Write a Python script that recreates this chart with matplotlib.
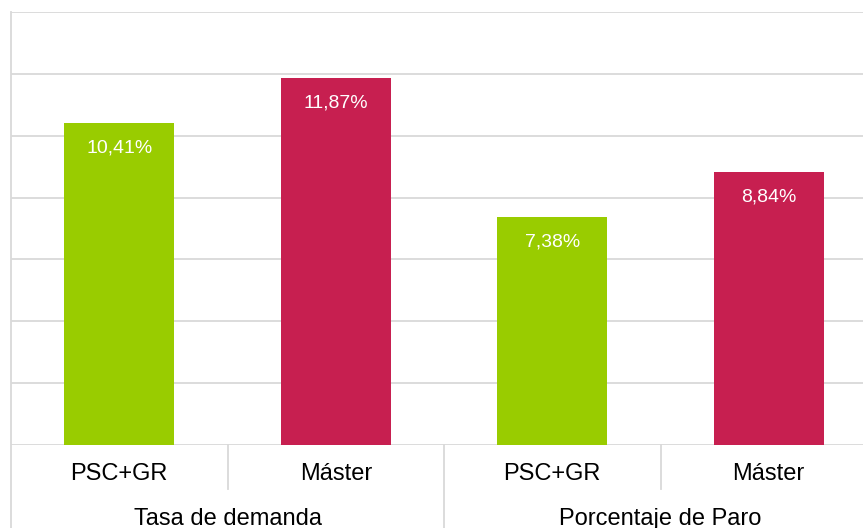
import matplotlib.pyplot as plt

# data
categories = ["PSC+GR", "Máster", "PSC+GR", "Máster"]
groups = ["Tasa de demanda", "Porcentaje de Paro"]
values = [10.41, 11.87, 7.38, 8.84]
labels = ["10,41%", "11,87%", "7,38%", "8,84%"]
colors = ["#99CC00", "#C71F50", "#99CC00", "#C71F50"]

plt.rcParams['font.family'] = ['Liberation Sans', 'DejaVu Sans']

fig = plt.figure(figsize=(8.63, 5.28), dpi=100)
ax = fig.add_axes([11 / 863, 83 / 528, 866 / 863, 433 / 528])

grid_c = "#D9D9D9"
x = list(range(len(values)))
bars = ax.bar(x, values, width=0.51, color=colors, zorder=3)

for b, lab in zip(bars, labels):
    ax.annotate(lab, (b.get_x() + b.get_width() / 2, b.get_height()),
                xytext=(0, -18), textcoords="offset points",
                ha="center", va="center", color="white", fontsize=14, zorder=4)

ax.set_xlim(-0.5, 3.5)
ax.set_ylim(0, 14)
ax.set_yticks(range(0, 15, 2))
ax.yaxis.grid(True, color=grid_c, linewidth=1.3, zorder=0)
ax.set_xticks([])
ax.tick_params(left=False, labelleft=False)
for s in ["top", "right", "bottom"]:
    ax.spines[s].set_visible(False)
ax.spines["left"].set_color(grid_c)
ax.spines["left"].set_linewidth(1.3)
ax.spines["left"].set_bounds(-3.5, 14)
ax.spines["left"].set_clip_on(False)

tr = ax.get_xaxis_transform()
# category labels
for xi, c in zip(x, categories):
    ax.text(xi, -0.067, c, transform=tr, ha="center", va="center", fontsize=17)
# group labels
for gi, g in enumerate(groups):
    ax.text(gi * 2 + 0.5, -0.17, g, transform=tr, ha="center", va="center", fontsize=17)

# separators below the axis
ax.plot([0.5, 0.5], [0, -0.102], transform=tr, color=grid_c, lw=1.3, clip_on=False)
ax.plot([2.5, 2.5], [0, -0.102], transform=tr, color=grid_c, lw=1.3, clip_on=False)
ax.plot([1.5, 1.5], [0, -0.25], transform=tr, color=grid_c, lw=1.3, clip_on=False)

fig.savefig("out.png", dpi=100)
